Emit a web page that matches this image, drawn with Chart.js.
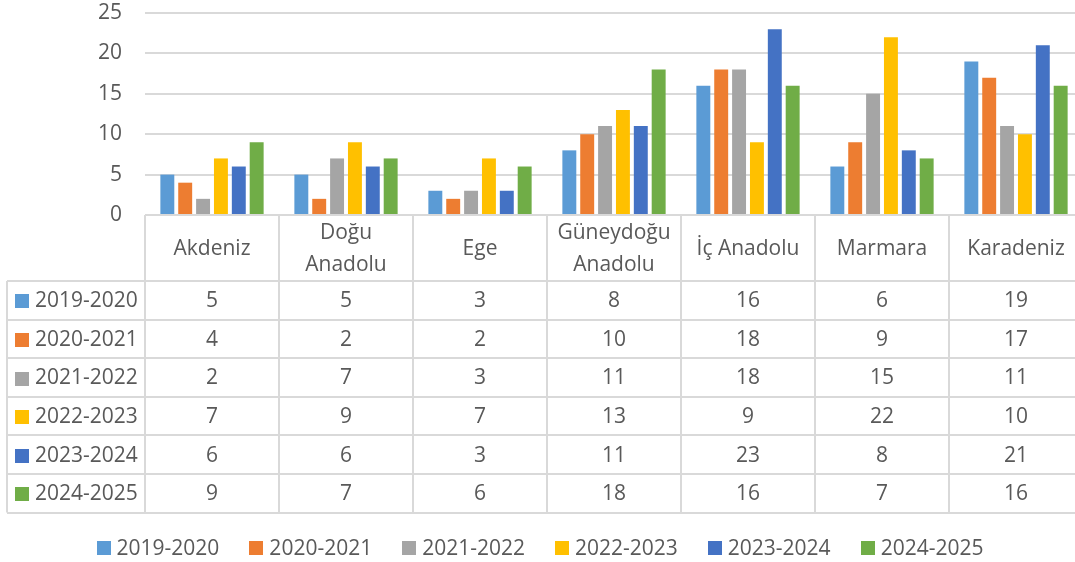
<!DOCTYPE html>
<html>
<head>
<meta charset="utf-8">
<script src="https://cdn.jsdelivr.net/npm/chart.js@4"></script>
<style>
  html, body { margin: 0; padding: 0; background: #fff; overflow: hidden; }
  #wrap { width: 1090px; height: 562px; }
</style>
</head>
<body>
<div id="wrap"><canvas id="chart" width="1090" height="562"></canvas></div>
<script>
'use strict';

// Regions (categories) - arrays mean two-line labels in the table header
let regions = ['Akdeniz', ['Doğu', 'Anadolu'], 'Ege', ['Güneydoğu', 'Anadolu'], 'İç Anadolu', 'Marmara', 'Karadeniz'];

// Series names
let seasons = ['2019-2020', '2020-2021', '2021-2022', '2022-2023', '2023-2024', '2024-2025'];

// Values per season
let v2019 = [5, 5, 3, 8, 16, 6, 19];
let v2020 = [4, 2, 2, 10, 18, 9, 17];
let v2021 = [2, 7, 3, 11, 18, 15, 11];
let v2022 = [7, 9, 7, 13, 9, 22, 10];
let v2023 = [6, 6, 3, 11, 23, 8, 21];
let v2024 = [9, 7, 6, 18, 16, 7, 16];

// Y axis ticks
let yTicks = [0, 5, 10, 15, 20, 25];

let colors = ['#5B9BD5', '#ED7D31', '#A5A5A5', '#FFC000', '#4472C4', '#70AD47'];
let allValues = [v2019, v2020, v2021, v2022, v2023, v2024];

const FONT = '21px "Open Sans"';
const TEXT = '#595959';
const LINE = '#d9d9d9';

// Draws the data table under the plot and the legend, using the x scale for columns
const tablePlugin = {
  id: 'dataTable',
  afterDraw(chart) {
    const ctx = chart.ctx;
    const x = chart.scales.x;
    const area = chart.chartArea;
    const half = (x.getPixelForValue(1) - x.getPixelForValue(0)) / 2;
    const headTop = area.bottom;
    const headH = 66;
    const rowH = 38.6;
    const leftEdge = 7;
    const rows = chart.data.datasets.length;
    const tableBottom = headTop + headH + rows * rowH;

    ctx.save();
    ctx.strokeStyle = LINE;
    ctx.lineWidth = 2;

    // vertical lines at each category boundary
    for (let i = 0; i <= regions.length; i++) {
      let px = Math.round(x.getPixelForValue(i) - half);
      ctx.beginPath();
      ctx.moveTo(px, headTop);
      ctx.lineTo(px, tableBottom);
      ctx.stroke();
    }
    // left border of row label column
    ctx.beginPath();
    ctx.moveTo(leftEdge, headTop + headH);
    ctx.lineTo(leftEdge, tableBottom);
    ctx.stroke();

    // horizontal lines
    for (let r = 0; r <= rows; r++) {
      let py = Math.round(headTop + headH + r * rowH);
      ctx.beginPath();
      ctx.moveTo(leftEdge, py);
      ctx.lineTo(area.right, py);
      ctx.stroke();
    }

    ctx.font = FONT;
    ctx.fillStyle = TEXT;
    ctx.textAlign = 'center';
    ctx.textBaseline = 'middle';

    // header labels
    for (let i = 0; i < regions.length; i++) {
      let cx = x.getPixelForValue(i);
      let lab = regions[i];
      let cy = headTop + headH / 2 + 1;
      if (Array.isArray(lab)) {
        ctx.fillText(lab[0], cx, cy - 16);
        ctx.fillText(lab[1], cx, cy + 16);
      } else {
        ctx.fillText(lab, cx, cy);
      }
    }

    // rows
    chart.data.datasets.forEach((ds, r) => {
      let cy = headTop + headH + r * rowH + rowH / 2 + 1;
      ctx.fillStyle = ds.backgroundColor;
      ctx.fillRect(15, Math.round(cy - 7), 14, 14);
      ctx.fillStyle = TEXT;
      ctx.textAlign = 'left';
      ctx.fillText(ds.label, 35, cy);
      ctx.textAlign = 'center';
      ds.data.forEach((val, i) => {
        ctx.fillText(String(val), x.getPixelForValue(i), cy);
      });
    });

    // legend
    let widths = chart.data.datasets.map(ds => ctx.measureText(ds.label).width);
    let total = 0;
    widths.forEach((w, i) => { total += 14 + 6 + w + (i < widths.length - 1 ? 30 : 0); });
    let lx = 540 - total / 2;
    let ly = 548;
    chart.data.datasets.forEach((ds, i) => {
      ctx.fillStyle = ds.backgroundColor;
      ctx.fillRect(Math.round(lx), ly - 7, 14, 14);
      ctx.fillStyle = TEXT;
      ctx.textAlign = 'left';
      ctx.fillText(ds.label, lx + 20, ly + 1);
      lx += 14 + 6 + widths[i] + 30;
    });
    ctx.restore();
  }
};

let datasets = seasons.map((name, i) => ({
  label: name,
  data: allValues[i],
  backgroundColor: colors[i],
  borderWidth: 0,
  categoryPercentage: 0.8,
  barPercentage: 0.78
}));

const ctx = document.getElementById('chart').getContext('2d');
const chart = new Chart(ctx, {
  type: 'bar',
  data: {
    labels: regions,
    datasets: datasets
  },
  options: {
    responsive: false,
    animation: false,
    layout: { padding: { top: 13, right: 7, left: 0, bottom: 0 } },
    plugins: {
      legend: { display: false },
      tooltip: { enabled: false }
    },
    scales: {
      x: {
        grid: { display: false },
        border: { display: false },
        ticks: { display: false },
        afterFit(scale) { scale.height = 347; }
      },
      y: {
        min: yTicks[0],
        max: yTicks[yTicks.length - 1],
        ticks: {
          stepSize: 5,
          padding: 23,
          color: TEXT,
          font: { family: 'Open Sans', size: 21 }
        },
        grid: { color: LINE, lineWidth: 2, drawTicks: false },
        border: { display: false },
        afterFit(scale) {
          scale.width = 145;
          scale.paddingTop = 0;
          scale.paddingBottom = 0;
        }
      }
    }
  },
  plugins: [tablePlugin]
});
</script>
</body>
</html>
